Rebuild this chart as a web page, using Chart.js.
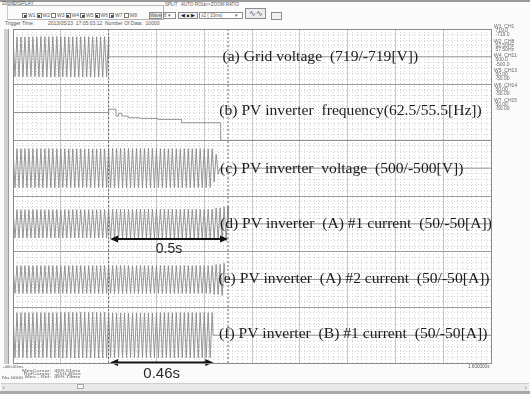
<!DOCTYPE html>
<html>
<head>
<meta charset="utf-8">
<title>PV inverter islanding test record</title>
<script src="https://cdn.jsdelivr.net/npm/chart.js@4.4.1/dist/chart.umd.min.js"></script>
<style>
  html, body { margin: 0; padding: 0; }
  body {
    width: 530px; height: 394px; position: relative; overflow: hidden;
    background: #fbfbfb; color: #5a5a5a;
    font-family: "Liberation Sans", Arial, sans-serif;
  }
  .t { position: absolute; font-size: 5px; line-height: 5px; white-space: pre; }
  .box { position: absolute; border: 1px solid #b4b4b4; box-sizing: border-box; }
  .btn { position: absolute; border: 1px solid #8a8a8a; background: #ececec; box-sizing: border-box;
         font-size: 4.5px; line-height: 5px; text-align: center; white-space: pre; }
  .cb { position: absolute; width: 5px; height: 5px; border: 1px solid #777; box-sizing: border-box; background: #fff; }
  .cb.on::after { content: ""; position: absolute; left: 0.5px; top: 0.5px; width: 2px; height: 2px; background: #444; }
  #plotBg { position: absolute; left: 13px; top: 29px; width: 479px; height: 335px; background: #fff; }
  #plotFrame { position: absolute; left: 13px; top: 29px; width: 479px; height: 335px;
               border: 1px solid #8a8a8a; box-sizing: border-box; pointer-events: none; }
  #chart { position: absolute; left: 0; top: 0; }
  .legend { position: absolute; left: 494px; font-size: 5px; line-height: 4.4px; white-space: pre; color: #666; }
</style>
</head>
<body>

<!-- ===================== toolbar ===================== -->
<div style="position:absolute;left:0;top:0;width:530px;height:2px;background:#9a9a9a"></div>
<div class="box" style="left:7px;top:5px;width:157px;height:15px;border-left-color:#c8c8c8"></div>
<div class="t" style="left:2px;top:1px">Zoom</div>
<div class="t" style="left:13px;top:1px">DISPLAY</div>
<div id="checks"></div>
<div class="btn" style="left:149px;top:12px;width:13px;height:7px">Wave</div>
<div class="btn" style="left:163px;top:12px;width:13px;height:7px;background:#fff;text-align:left">8 ▾</div>
<div class="t" style="left:165px;top:2px;font-size:4.5px">SPLIT</div>
<div class="t" style="left:181px;top:2px;font-size:4.5px">AUTO ROLL</div>
<div class="t" style="left:203px;top:2px;font-size:4.5px">&lt;&lt;&lt;ZOOM RATIO</div>
<div class="btn" style="left:178px;top:12px;width:20px;height:7px;color:#222">◀ ■ ▶</div>
<div class="btn" style="left:199px;top:12px;width:44px;height:7px;background:#fff;text-align:left"> x2 ( 10ms)          ▾</div>
<div class="btn" style="left:245px;top:8px;width:21px;height:11px;font-size:8px;line-height:9px;color:#555">∿∿</div>
<div class="btn" style="left:271px;top:12px;width:11px;height:8px;background:#f2f2f2"></div>

<div class="t" style="left:5px;top:21px">Trigger Time:</div>
<div class="t" style="left:48px;top:21px">2013/05/23  17:05:03.12  Number Of Data:  10000</div>

<!-- ===================== plot area ===================== -->
<div style="position:absolute;left:4px;top:29px;width:4px;height:335px;background:#cfcfcf;border-right:1px solid #9a9a9a"></div>
<div id="plotBg"></div>
<canvas id="chart" width="530" height="394"></canvas>
<div id="plotFrame"></div>

<div class="legend" style="top:23.5px">W1  CH1
 719.0
 -719.0</div>
<div class="legend" style="top:38.5px">W2  CH8
 62.50Hz
 57.50Hz</div>
<div class="legend" style="top:53px">W4  CH11
 500.0
 -500.0</div>
<div class="legend" style="top:67.5px">W5  CH13
 50.00
 -50.00</div>
<div class="legend" style="top:82.5px">W6  CH14
 50.00
 -50.00</div>
<div class="legend" style="top:97.5px">W7  CH15
 50.00
 -50.00</div>

<!-- ===================== bottom info ===================== -->
<div class="t" style="left:3px;top:363.5px;font-size:4.3px">-400.00ms</div>
<div class="t" style="left:468px;top:363.5px;font-size:4.6px">1.600000s</div>
<div class="t" style="left:22px;top:368.5px;font-size:4px;line-height:3.4px;text-align:right;transform:scaleX(1.4);transform-origin:0 0">MesCursor:
RefCursor:
Mes - Ref:</div>
<div class="t" style="left:54px;top:368.5px;font-size:4px;line-height:3.4px;transform:scaleX(1.5);transform-origin:0 0">499.51ms
-210.40us
499.73ms</div>
<div class="t" style="left:2px;top:375.3px;font-size:4px;transform:scaleX(1.4);transform-origin:0 0">No.0000</div>
<div style="position:absolute;left:1px;top:383px;width:528px;height:7px;background:#e9e9e9;border-top:1px solid #cfcfcf"></div>
<div class="t" style="left:3px;top:384.5px;color:#444">‹</div>
<div class="t" style="left:525px;top:384.5px;color:#444">›</div>
<div style="position:absolute;left:77px;top:384px;width:7px;height:5px;background:#f6f6f6;border:1px solid #aaa;box-sizing:border-box"></div>
<div style="position:absolute;left:0;top:391px;width:530px;height:3px;background:#a8a8a8"></div>

<script>
// =====================
// Data
// =====================

const T_MIN = -0.4;            // s, left edge of the record
const T_MAX = 1.6;             // s, right edge
const HALF_CYCLE = 1 / 120;    // 60 Hz system -> one peak per half cycle

const displayChannels = ['W1', 'W2', 'W3', 'W4', 'W5', 'W6', 'W7', 'W8'];
const displayChecked  = [1, 1, 0, 1, 1, 1, 1, 0];

// cursors [s]
const refCursor = -0.0002104;
const mesCursor = 0.49951;

// (a) grid voltage, peak per segment [V], full scale 719
const gridSegStart = [-0.4, -0.3, -0.2, -0.1];
const gridPeak     = [516, 522, 518, 520];
const gridEnd      = 0.0;

// (b) inverter frequency [Hz], screen range 57.5 .. 62.5
const freqTime = [-0.4, 0.0, 0.031, 0.041, 0.055, 0.082, 0.131, 0.207, 0.306, 0.469, 1.6];
const freqHz   = [60.0, 60.3, 59.68, 59.92, 59.68, 59.53, 59.47, 59.38, 59.08, 57.5, 57.5];

// (c) inverter voltage, peak [V], full scale 500
const invVSegStart = [-0.4, -0.2, 0.0, 0.2, 0.44, 0.455];
const invVPeak     = [352, 348, 355, 350, 250, 110];
const invVEnd      = 0.466;

// (d) inverter A #1 current, peak [A], full scale 50
const ia1SegStart = [-0.4, 0.0, 0.44, 0.47];
const ia1Peak     = [25.5, 26, 28.5, 31];
const ia1End      = 0.5;

// (e) inverter A #2 current
const ia2SegStart = [-0.4, 0.0, 0.44, 0.47];
const ia2Peak     = [25, 25, 27, 29];
const ia2End      = 0.488;

// (f) inverter B #1 current
const ib1SegStart = [-0.4, -0.2, 0.0, 0.2];
const ib1Peak     = [40.5, 41, 40, 40.5];
const ib1End      = 0.437;

const traceLabels = [
  '(a) Grid voltage  (719/-719[V])',
  '(b) PV inverter  frequency(62.5/55.5[Hz])',
  '(c) PV inverter  voltage  (500/-500[V])',
  '(d) PV inverter  (A) #1 current  (50/-50[A])',
  '(e) PV inverter  (A) #2 current  (50/-50[A])',
  '(f) PV inverter  (B) #1 current  (50/-50[A])'
];

// timing arrows drawn on the figure
const arrowSpans = [[0.006, mesCursor], [0.006, 0.438]];
const arrowText  = ['0.5s', '0.46s'];

// --- layout only (pixels) ---
const labelPos = [[222.5, 60.7], [219.3, 115], [220, 173.3], [220, 228.3], [218.5, 282.7], [219, 338.3]];
const arrowLayout = [
  { y: 239, baseline: 253, font: '14px "Liberation Sans", Arial, sans-serif' },
  { y: 362.5, baseline: 377.5, font: '15px "Liberation Sans", Arial, sans-serif' }
];

// --- toolbar check boxes ---
const checks = document.getElementById('checks');
displayChannels.forEach((name, i) => {
  const left = 22 + i * 14.5;
  const cb = document.createElement('div');
  cb.className = 'cb' + (displayChecked[i] ? ' on' : '');
  cb.style.left = left + 'px';
  cb.style.top = '13px';
  const lab = document.createElement('div');
  lab.className = 't';
  lab.style.left = (left + 6) + 'px';
  lab.style.top = '13px';
  lab.textContent = name;
  checks.appendChild(cb);
  checks.appendChild(lab);
});

// =====================
// helpers
// =====================

// panel 0 is the top strip; value is mapped into that strip of the 0..6 axis
function toPanel(panel, value, fullScale) {
  return (5.5 - panel) + value / (2 * fullScale);
}

// one point per half cycle, alternating sign, using the peak read for that segment
function buildWave(segStart, peaks, tEnd, fullScale, panel) {
  const pts = [];
  let sign = 1;
  let s = 0;
  for (let k = 0; ; k++) {
    const t = T_MIN + k * HALF_CYCLE;
    if (t > tEnd) break;
    while (s + 1 < segStart.length && t >= segStart[s + 1]) s++;
    pts.push({ x: t, y: toPanel(panel, sign * peaks[s], fullScale) });
    sign = -sign;
  }
  pts.push({ x: tEnd, y: toPanel(panel, 0, fullScale) });
  pts.push({ x: T_MAX, y: toPanel(panel, 0, fullScale) });
  return pts;
}

const freqPoints = freqTime.map((t, i) => ({ x: t, y: toPanel(1, freqHz[i] - 60, 2.5) }));

function trace(data, extra) {
  return Object.assign({
    data, xAxisID: 'x', yAxisID: 'y',
    borderColor: '#8a8a8a', borderWidth: 0.9, pointRadius: 0, tension: 0, fill: false
  }, extra || {});
}

function cursor(t) {
  return trace([{ x: t, y: 0 }, { x: t, y: 6 }], { borderColor: '#707070', borderWidth: 1, borderDash: [2, 2] });
}

function drawArrow(ctx, x1, x2, y) {
  const head = 8, half = 3.5;
  ctx.strokeStyle = '#111';
  ctx.fillStyle = '#111';
  ctx.lineWidth = 2;
  ctx.beginPath();
  ctx.moveTo(x1 + head - 1, y);
  ctx.lineTo(x2 - head + 1, y);
  ctx.stroke();
  ctx.beginPath();
  ctx.moveTo(x1, y); ctx.lineTo(x1 + head, y - half); ctx.lineTo(x1 + head, y + half);
  ctx.closePath(); ctx.fill();
  ctx.beginPath();
  ctx.moveTo(x2, y); ctx.lineTo(x2 - head, y - half); ctx.lineTo(x2 - head, y + half);
  ctx.closePath(); ctx.fill();
}

const paperNotes = {
  id: 'paperNotes',
  afterDatasetsDraw(chart) {
    const { ctx } = chart;
    const xs = chart.scales.x;
    ctx.save();
    ctx.font = '15.6px "Liberation Serif", "Times New Roman", serif';
    ctx.fillStyle = '#1c1c1c';
    ctx.textBaseline = 'alphabetic';
    traceLabels.forEach((txt, i) => ctx.fillText(txt, labelPos[i][0], labelPos[i][1]));

    arrowSpans.forEach((span, i) => {
      const x1 = xs.getPixelForValue(span[0]);
      const x2 = xs.getPixelForValue(span[1]);
      drawArrow(ctx, x1, x2, arrowLayout[i].y);
      ctx.font = arrowLayout[i].font;
      ctx.fillStyle = '#2b2b2b';
      ctx.textAlign = 'center';
      ctx.fillText(arrowText[i], (x1 + x2) / 2, arrowLayout[i].baseline);
      ctx.textAlign = 'left';
    });
    ctx.restore();
  }
};

// =====================
// Chart
// =====================
const chart = new Chart(document.getElementById('chart').getContext('2d'), {
  type: 'line',
  data: {
    datasets: [
      cursor(refCursor),
      cursor(mesCursor),
      trace(buildWave(gridSegStart, gridPeak, gridEnd, 719, 0)),
      trace(freqPoints, { stepped: true }),
      trace(buildWave(invVSegStart, invVPeak, invVEnd, 500, 2)),
      trace(buildWave(ia1SegStart, ia1Peak, ia1End, 50, 3)),
      trace(buildWave(ia2SegStart, ia2Peak, ia2End, 50, 4)),
      trace(buildWave(ib1SegStart, ib1Peak, ib1End, 50, 5))
    ]
  },
  options: {
    responsive: false,
    animation: false,
    layout: { padding: { left: 13, top: 29, right: 39, bottom: 31 } },
    plugins: { legend: { display: false }, tooltip: { enabled: false } },
    scales: {
      xMinor: {
        type: 'linear', position: 'bottom', min: T_MIN, max: T_MAX, z: -1,
        ticks: { display: false, stepSize: 0.02 },
        grid: { drawTicks: false, color: c => (c.index % 10 === 0 ? 'rgba(0,0,0,0)' : '#d4d4d4') },
        border: { display: false, dash: [1, 2] }
      },
      yMinor: {
        type: 'linear', position: 'left', min: 0, max: 6, z: -1,
        ticks: { display: false, stepSize: 0.1 },
        grid: { drawTicks: false, color: c => (c.index % 10 === 0 ? 'rgba(0,0,0,0)' : '#d4d4d4') },
        border: { display: false, dash: [1, 2] }
      },
      x: {
        type: 'linear', position: 'bottom', min: T_MIN, max: T_MAX,
        ticks: { display: false, stepSize: 0.2 },
        grid: { drawTicks: false, color: '#c6c6c6' },
        border: { display: false }
      },
      y: {
        type: 'linear', position: 'left', min: 0, max: 6,
        ticks: { display: false, stepSize: 1 },
        grid: { drawTicks: false, color: '#9c9c9c' },
        border: { display: false }
      }
    }
  },
  plugins: [paperNotes]
});
</script>
</body>
</html>
